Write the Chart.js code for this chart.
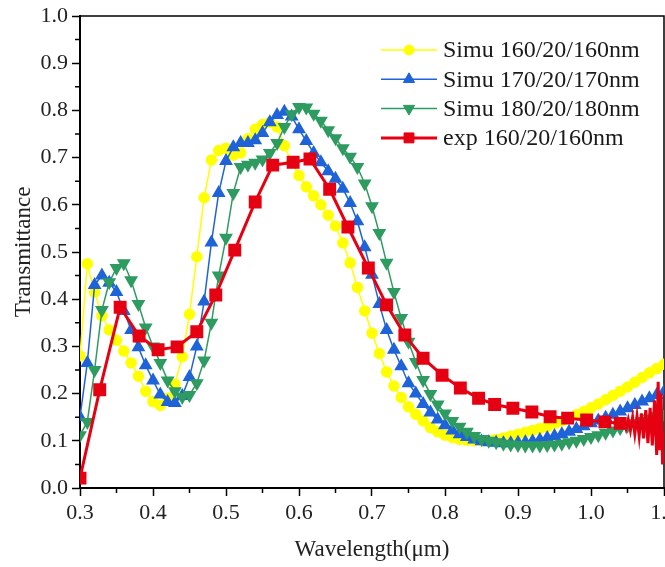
<!DOCTYPE html>
<html>
<head>
<meta charset="utf-8">
<script src="https://cdn.jsdelivr.net/npm/chart.js@4.4.1/dist/chart.umd.min.js"></script>
<style>
  html, body { margin: 0; padding: 0; background: #fff; overflow: hidden; }
</style>
</head>
<body>
<canvas id="transChart" width="665" height="567"></canvas>
<script>
// wavelength (um) of the simulated spectra
const simWavelength = [
  0.30, 0.31, 0.32, 0.33, 0.34, 0.35, 0.36, 0.37, 0.38, 0.39,
  0.40, 0.41, 0.42, 0.43, 0.44, 0.45, 0.46, 0.47, 0.48, 0.49,
  0.50, 0.51, 0.52, 0.53, 0.54, 0.55, 0.56, 0.57, 0.58, 0.59,
  0.60, 0.61, 0.62, 0.63, 0.64, 0.65, 0.66, 0.67, 0.68, 0.69,
  0.70, 0.71, 0.72, 0.73, 0.74, 0.75, 0.76, 0.77, 0.78, 0.79,
  0.80, 0.81, 0.82, 0.83, 0.84, 0.85, 0.86, 0.87, 0.88, 0.89,
  0.90, 0.91, 0.92, 0.93, 0.94, 0.95, 0.96, 0.97, 0.98, 0.99,
  1.00, 1.01, 1.02, 1.03, 1.04, 1.05, 1.06, 1.07, 1.08, 1.09, 1.10
];

const simu160 = [
  0.280, 0.475, 0.415, 0.365, 0.335, 0.313, 0.290, 0.265, 0.237, 0.205,
  0.183, 0.175, 0.190, 0.220, 0.278, 0.368, 0.490, 0.615, 0.695, 0.715,
  0.720, 0.705, 0.710, 0.740, 0.760, 0.770, 0.775, 0.765, 0.725, 0.690,
  0.662, 0.638, 0.619, 0.600, 0.578, 0.555, 0.519, 0.477, 0.425, 0.375,
  0.328, 0.285, 0.246, 0.216, 0.192, 0.172, 0.156, 0.142, 0.128, 0.119,
  0.112, 0.107, 0.103, 0.101, 0.100, 0.100, 0.101, 0.103, 0.106, 0.110,
  0.114, 0.118, 0.122, 0.126, 0.130, 0.136, 0.142, 0.148, 0.155, 0.162,
  0.170, 0.178, 0.187, 0.196, 0.205, 0.214, 0.224, 0.234, 0.244, 0.253, 0.262
];

const simu170 = [
  0.150, 0.265, 0.430, 0.450, 0.435, 0.415, 0.375, 0.335, 0.298, 0.260,
  0.228, 0.198, 0.182, 0.180, 0.195, 0.235, 0.300, 0.395, 0.520, 0.625,
  0.693, 0.722, 0.731, 0.731, 0.737, 0.752, 0.775, 0.790, 0.797, 0.787,
  0.760, 0.735, 0.710, 0.690, 0.671, 0.655, 0.634, 0.604, 0.565, 0.510,
  0.452, 0.390, 0.335, 0.293, 0.258, 0.222, 0.200, 0.178, 0.160, 0.145,
  0.133, 0.122, 0.114, 0.108, 0.103, 0.099, 0.097, 0.096, 0.095, 0.095,
  0.096, 0.097, 0.099, 0.102, 0.106, 0.110, 0.114, 0.119, 0.125, 0.131,
  0.137, 0.143, 0.149, 0.155, 0.162, 0.169, 0.176, 0.183, 0.190, 0.197, 0.204
];

const simu180 = [
  0.112, 0.140, 0.250, 0.377, 0.436, 0.466, 0.476, 0.440, 0.390, 0.340,
  0.300, 0.265, 0.228, 0.205, 0.193, 0.197, 0.222, 0.270, 0.350, 0.450,
  0.530, 0.625, 0.680, 0.685, 0.689, 0.696, 0.710, 0.731, 0.765, 0.792,
  0.807, 0.806, 0.793, 0.778, 0.758, 0.741, 0.720, 0.702, 0.680, 0.645,
  0.597, 0.540, 0.477, 0.415, 0.360, 0.310, 0.267, 0.229, 0.199, 0.177,
  0.158, 0.142, 0.130, 0.119, 0.110, 0.104, 0.100, 0.097, 0.094, 0.092,
  0.091, 0.090, 0.090, 0.090, 0.091, 0.092, 0.094, 0.097, 0.100, 0.104,
  0.108, 0.112, 0.117, 0.122, 0.127, 0.132, 0.137, 0.142, 0.147, 0.152, 0.157
];

// measured spectrum, noisy past ~1.04 um
const expWavelength = [
  0.300, 0.327, 0.355, 0.381, 0.407, 0.433, 0.460, 0.486, 0.512, 0.540,
  0.564, 0.592, 0.615, 0.642, 0.667, 0.695, 0.720, 0.745, 0.770, 0.796,
  0.821, 0.846, 0.868, 0.893, 0.919, 0.944, 0.968, 0.994, 1.019, 1.040,
  1.045, 1.048, 1.051, 1.054, 1.057, 1.060, 1.063, 1.066, 1.069, 1.072,
  1.075, 1.078, 1.081, 1.084, 1.087, 1.090, 1.092, 1.094, 1.096, 1.098, 1.100
];
const exp160 = [
  0.021, 0.208, 0.383, 0.322, 0.293, 0.299, 0.331, 0.409, 0.504, 0.606,
  0.684, 0.690, 0.697, 0.633, 0.553, 0.466, 0.388, 0.324, 0.275, 0.239,
  0.212, 0.190, 0.177, 0.169, 0.161, 0.151, 0.148, 0.144, 0.140, 0.137,
  0.140, 0.125, 0.145, 0.122, 0.150, 0.115, 0.152, 0.110, 0.158, 0.105,
  0.165, 0.095, 0.170, 0.090, 0.185, 0.070, 0.225, 0.080, 0.200, 0.050, 0.120
];

const seriesLabels = ['Simu 160/20/160nm', 'Simu 170/20/170nm', 'Simu 180/20/180nm', 'exp 160/20/160nm'];

const xTicks = [0.3, 0.4, 0.5, 0.6, 0.7, 0.8, 0.9, 1.0, 1.1];
const yTicks = [0.0, 0.1, 0.2, 0.3, 0.4, 0.5, 0.6, 0.7, 0.8, 0.9, 1.0];
const xMinor = [0.35, 0.45, 0.55, 0.65, 0.75, 0.85, 0.95, 1.05];
const yMinor = [0.05, 0.15, 0.25, 0.35, 0.45, 0.55, 0.65, 0.75, 0.85, 0.95];

const serif = '"Liberation Serif", "Times New Roman", serif';

const toPoints = (xs, ys) => xs.map((x, i) => ({x, y: ys[i]}));

// frame on top/right plus minor ticks
const framePlugin = {
  id: 'frame',
  beforeDatasetsDraw(chart) {
    const {ctx, chartArea: a, scales: {x, y}} = chart;
    ctx.save();
    ctx.strokeStyle = '#000';
    ctx.lineWidth = 1.5;
    ctx.beginPath();
    ctx.moveTo(a.left, a.top);
    ctx.lineTo(a.right, a.top);
    ctx.lineTo(a.right, a.bottom);
    ctx.stroke();
    ctx.beginPath();
    xMinor.forEach(v => {
      const px = x.getPixelForValue(v);
      ctx.moveTo(px, a.bottom);
      ctx.lineTo(px, a.bottom + 5);
    });
    yMinor.forEach(v => {
      const py = y.getPixelForValue(v);
      ctx.moveTo(a.left, py);
      ctx.lineTo(a.left - 5, py);
    });
    ctx.stroke();
    ctx.restore();
  }
};

// legend with line + marker samples, as in Origin
const lineLegend = {
  id: 'lineLegend',
  afterDraw(chart) {
    const {ctx} = chart;
    ctx.save();
    chart.data.datasets.forEach((ds, i) => {
      const yc = 50 + i * 29.3;
      ctx.strokeStyle = ds.borderColor;
      ctx.lineWidth = ds.borderWidth;
      ctx.beginPath();
      ctx.moveTo(381, yc);
      ctx.lineTo(437, yc);
      ctx.stroke();
      ctx.fillStyle = ds.backgroundColor;
      ctx.lineWidth = 1;
      Chart.helpers.drawPoint(ctx, {
        pointStyle: ds.pointStyle,
        rotation: ds.pointRotation || 0,
        radius: typeof ds.pointRadius === 'function' ? 7 : ds.pointRadius,
        borderWidth: 1
      }, 409, yc);
      ctx.fillStyle = '#1a1a1a';
      ctx.font = '24px ' + serif;
      ctx.textBaseline = 'middle';
      ctx.textAlign = 'left';
      ctx.fillText(ds.label, 443, yc + 1);
    });
    ctx.restore();
  }
};

const config = {
  type: 'line',
  data: {
    datasets: [
      {
        label: seriesLabels[0],
        data: toPoints(simWavelength, simu160),
        borderColor: '#FFFF00',
        backgroundColor: '#FFFF00',
        borderWidth: 1.5,
        pointStyle: 'circle',
        pointRadius: 5,
        order: 4
      },
      {
        label: seriesLabels[1],
        data: toPoints(simWavelength, simu170),
        borderColor: '#1F63D9',
        backgroundColor: '#1F63D9',
        borderWidth: 1.5,
        pointStyle: 'triangle',
        pointRadius: 6.5,
        order: 3
      },
      {
        label: seriesLabels[2],
        data: toPoints(simWavelength, simu180),
        borderColor: '#2E9B60',
        backgroundColor: '#2E9B60',
        borderWidth: 1.5,
        pointStyle: 'triangle',
        pointRotation: 180,
        pointRadius: 6.5,
        order: 2
      },
      {
        label: seriesLabels[3],
        data: toPoints(expWavelength, exp160),
        borderColor: '#E50012',
        backgroundColor: '#E50012',
        borderWidth: 3,
        pointStyle: 'rect',
        pointRadius: ctx => (ctx.raw && ctx.raw.x > 1.041 ? 0 : 7),
        order: 1
      }
    ]
  },
  options: {
    responsive: false,
    animation: false,
    devicePixelRatio: 1,
    layout: { autoPadding: false, padding: { top: 16, right: 1, left: 0, bottom: 0 } },
    elements: { line: { tension: 0 }, point: { borderWidth: 1, hoverRadius: 5 } },
    plugins: { legend: { display: false }, tooltip: { enabled: false } },
    scales: {
      x: {
        type: 'linear',
        min: 0.3,
        max: 1.1,
        afterBuildTicks: s => { s.ticks = xTicks.map(v => ({value: v})); },
        afterFit: s => { s.height = 79; s.paddingLeft = 0; s.paddingRight = 0; },
        ticks: {
          callback: v => v.toFixed(1),
          font: { family: serif, size: 22 },
          color: '#222',
          padding: 4,
          maxRotation: 0,
          autoSkip: false
        },
        grid: { drawOnChartArea: false, drawTicks: true, tickLength: 8, tickWidth: 1.5, tickColor: '#000' },
        border: { display: true, color: '#000', width: 2 },
        title: {
          display: true,
          text: 'Wavelength(μm)',
          font: { family: serif, size: 23 },
          color: '#222',
          padding: { top: 0, bottom: 3 }
        }
      },
      y: {
        min: 0,
        max: 1,
        afterBuildTicks: s => { s.ticks = yTicks.map(v => ({value: v})); },
        afterFit: s => { s.width = 80; s.paddingTop = 0; s.paddingBottom = 0; },
        ticks: {
          callback: v => v.toFixed(1),
          font: { family: serif, size: 22 },
          color: '#222',
          padding: 4,
          autoSkip: false
        },
        grid: { drawOnChartArea: false, drawTicks: true, tickLength: 8, tickWidth: 1.5, tickColor: '#000' },
        border: { display: true, color: '#000', width: 2 },
        title: {
          display: true,
          text: 'Transmittance',
          font: { family: serif, size: 23 },
          color: '#222',
          padding: { top: 10, bottom: 0 }
        }
      }
    }
  },
  plugins: [framePlugin, lineLegend]
};

new Chart(document.getElementById('transChart').getContext('2d'), config);
</script>
</body>
</html>
